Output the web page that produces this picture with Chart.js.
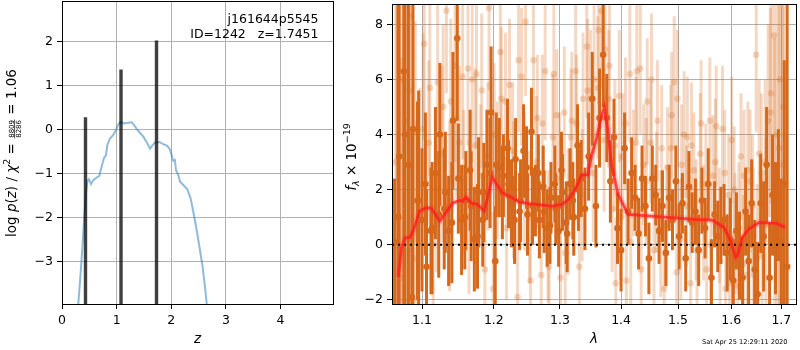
<!DOCTYPE html>
<html><head><meta charset="utf-8">
<script src="https://cdn.jsdelivr.net/npm/chart.js@4.4.1/dist/chart.umd.min.js"></script>
<style>
html,body{margin:0;padding:0;background:#fff;width:800px;height:350px;overflow:hidden;}
canvas{position:absolute;top:0;}
#c1{left:0;width:335px;height:350px;}
#c2{left:335px;width:465px;height:350px;}
</style></head><body>
<canvas id="c1" width="335" height="350"></canvas>
<canvas id="c2" width="465" height="350"></canvas>
<script>
// ---------- data ----------
const zTicks = [0, 1, 2, 3, 4];
const lnpTicks = [-3, -2, -1, 0, 1, 2];
const waveTicks = [1.1, 1.2, 1.3, 1.4, 1.5, 1.6, 1.7];
const fluxTicks = [-2, 0, 2, 4, 6, 8];
const zRange = [0, 4.96];
const lnpRange = [-3.97, 2.93];
const waveRange = [1.0607, 1.7305];
const fluxRange = [-2.156, 8.743];

const titleLines = ['j161644p5545', 'ID=1242   z=1.7451'];
const dateText = 'Sat Apr 25 12:29:11 2020';

// log p(z) curve
const pzZ = [0.27, 0.299, 0.341, 0.378, 0.408, 0.439, 0.463, 0.494, 0.531, 0.573, 0.634, 0.683, 0.726, 0.768, 0.805, 0.829, 0.878, 0.939, 0.988, 1.030, 1.061, 1.152, 1.213, 1.274, 1.317, 1.366, 1.427, 1.488, 1.561, 1.610, 1.659, 1.701, 1.781, 1.854, 1.927, 1.976, 2.006, 2.037, 2.067, 2.085, 2.128, 2.159, 2.220, 2.293, 2.354, 2.403, 2.464, 2.525, 2.573, 2.616, 2.647, 2.68];
const pzLogP = [-4.6, -3.95, -3.27, -2.59, -1.98, -1.45, -1.18, -1.13, -1.24, -1.15, -1.09, -1.05, -0.84, -0.65, -0.58, -0.35, -0.20, -0.12, -0.01, 0.12, 0.17, 0.14, 0.16, 0.17, 0.11, 0.02, -0.07, -0.16, -0.31, -0.43, -0.35, -0.29, -0.28, -0.33, -0.37, -0.45, -0.58, -0.71, -0.69, -0.92, -1.03, -1.18, -1.26, -1.36, -1.56, -1.87, -2.28, -2.74, -3.12, -3.57, -3.95, -4.5];

// redshift peaks (vertical bars)
const peakZ = [0.43, 1.08, 1.73];
const peakTop = [0.28, 1.37, 2.03];

// spectrum, dark set A
const darkWave = [1.064, 1.070, 1.076, 1.082, 1.088, 1.094, 1.100, 1.106, 1.112, 1.118, 1.124, 1.130, 1.136, 1.142, 1.148, 1.154, 1.160, 1.166, 1.172, 1.178, 1.184, 1.190, 1.196, 1.202, 1.208, 1.214, 1.220, 1.226, 1.232, 1.238, 1.244, 1.250, 1.256, 1.262, 1.268, 1.274, 1.280, 1.286, 1.292, 1.298, 1.304, 1.310, 1.316, 1.322, 1.328, 1.334, 1.340, 1.346, 1.352, 1.358, 1.364, 1.370, 1.376, 1.382, 1.388, 1.394, 1.400, 1.406, 1.412, 1.418, 1.424, 1.430, 1.436, 1.442, 1.448, 1.454, 1.460, 1.466, 1.472, 1.478, 1.484, 1.490, 1.496, 1.502, 1.508, 1.514, 1.520, 1.526, 1.532, 1.538, 1.544, 1.550, 1.556, 1.562, 1.568, 1.574, 1.580, 1.586, 1.592, 1.598, 1.604, 1.610, 1.616, 1.622, 1.628, 1.634, 1.640, 1.646, 1.652, 1.658, 1.664, 1.670, 1.676, 1.682, 1.688, 1.694, 1.700, 1.706, 1.712];
const darkFlux = [0.1, 3.2, 6.3, 2.9, 4.2, 1.6, 0.9, -0.8, 0.5, 2.6, 4.0, 1.3, 0.5, 4.5, 7.5, 0.9, 1.6, 2.7, 0.2, 1.9, 0.9, 2.9, 4.8, -0.6, 2.8, 2.5, 3.5, 1.5, 3.1, 1.2, 3.4, 1.1, 4.1, 1.6, 0.9, 2.1, 0.6, 1.7, 2.2, 0.5, 1.9, 0.8, 2.2, 1.0, 3.6, 2.4, 1.3, 3.2, 5.3, 1.4, 4.6, 6.9, 4.6, 2.3, 3.9, 0.6, -0.2, 3.5, 1.2, 2.6, 1.7, 0.4, 2.4, 1.4, -0.5, 2.4, 1.8, 0.5, 1.4, -0.3, 1.7, 0.9, 2.3, 0.3, 1.5, -0.5, 2.1, 0.8, 1.2, -0.2, 1.6, 0.6, 2.2, -1.2, 1.1, 0.3, 0.7, 0.9, -0.3, 0.2, -1.3, 0.5, -0.4, -1.2, 1.2, -0.6, 1.5, -0.9, -1.8, 1.5, 0.3, 2.9, -1.2, 1.8, 0.6, 1.8, 0.1, 2.2, -0.8];
const darkErr = [2.3, 12, 12, 9, 7, 3.6, 2.6, 2.8, 2.3, 2.4, 2.6, 2.2, 2.0, 2.5, 3.0, 2.0, 1.8, 2.2, 1.9, 2.0, 1.7, 2.0, 2.4, 2.0, 1.8, 1.5, 1.8, 1.6, 1.5, 1.4, 1.7, 1.5, 1.6, 1.3, 1.4, 1.5, 1.4, 1.3, 1.4, 1.3, 1.4, 1.5, 1.3, 1.4, 1.5, 1.4, 1.5, 1.6, 1.7, 1.5, 1.8, 1.9, 1.6, 1.5, 1.4, 1.3, 1.5, 1.3, 1.2, 1.3, 1.2, 1.3, 1.2, 1.1, 1.3, 1.2, 1.1, 1.2, 1.3, 1.2, 1.2, 1.1, 1.3, 1.2, 1.1, 1.2, 1.3, 1.1, 1.2, 1.3, 1.2, 1.1, 1.3, 1.4, 1.2, 1.3, 1.4, 1.3, 1.4, 1.5, 1.5, 1.4, 1.6, 1.5, 1.6, 1.7, 1.6, 1.8, 1.9, 1.8, 2.0, 2.1, 2.0, 2.2, 2.4, 2.4, 2.3, 4.5, 11];

// spectrum, dark set B (blue end only)
const darkWaveB = [1.0685, 1.0775, 1.0865, 1.0955, 1.1045, 1.1135, 1.1225, 1.1315, 1.1405, 1.1495, 1.1585, 1.1675, 1.1765, 1.1855, 1.1945, 1.2035, 1.2125, 1.2215, 1.2305, 1.2395, 1.2485, 1.2575, 1.2665, 1.2755, 1.2845, 1.2935, 1.3025, 1.3115, 1.3205, 1.3295];
const darkFluxB = [1.0, 4.0, -1.9, 1.6, 2.2, 0.6, 1.1, 1.9, 0.8, 2.4, 1.0, 1.4, 0.3, 1.9, 2.6, 2.9, 1.9, 2.2, 0.9, 1.6, 2.8, 1.4, 2.6, 1.2, 0.7, 1.3, 2.7, 0.4, 1.6, 2.0];
const darkErrB = [12, 10, 6, 4, 2.6, 2.4, 2.3, 2.2, 2.2, 2.0, 1.9, 2.0, 1.9, 1.8, 2.0, 1.9, 1.7, 1.6, 1.6, 1.5, 1.5, 1.4, 1.4, 1.5, 1.4, 1.3, 1.4, 1.4, 1.4, 1.5];

// spectrum, faint set A
const lightWave = [1.067, 1.073, 1.079, 1.085, 1.091, 1.097, 1.103, 1.109, 1.115, 1.121, 1.127, 1.133, 1.139, 1.145, 1.151, 1.157, 1.163, 1.169, 1.175, 1.181, 1.187, 1.193, 1.199, 1.205, 1.211, 1.217, 1.223, 1.229, 1.235, 1.241, 1.247, 1.253, 1.259, 1.265, 1.271, 1.277, 1.283, 1.289, 1.295, 1.301, 1.307, 1.313, 1.319, 1.325, 1.331, 1.337, 1.343, 1.349, 1.355, 1.361, 1.367, 1.373, 1.379, 1.385, 1.391, 1.397, 1.403, 1.409, 1.415, 1.421, 1.427, 1.433, 1.439, 1.445, 1.451, 1.457, 1.463, 1.469, 1.475, 1.481, 1.487, 1.493, 1.499, 1.505, 1.511, 1.517, 1.523, 1.529, 1.535, 1.541, 1.547, 1.553, 1.559, 1.565, 1.571, 1.577, 1.583, 1.589, 1.595, 1.601, 1.607, 1.613, 1.619, 1.625, 1.631, 1.637, 1.643, 1.649, 1.655, 1.661, 1.667, 1.673, 1.679, 1.685, 1.691, 1.697, 1.703];
const lightFlux = [0.8, -1.2, 4.5, 8.3, 4.1, 2.2, 7.3, 3.7, 0.0, 5.9, 3.3, 8.5, 5.2, 6.5, 3.7, 2.3, 6.4, 6.0, 6.2, 2.5, -0.9, 8.6, -1.6, 2.7, 5.3, 5.2, 5.8, 2.0, -1.9, 6.1, 8.1, 1.0, 6.7, 4.6, -1.1, 6.3, -0.8, 3.9, 4.7, -1.2, 4.8, 1.2, 4.5, 6.3, -0.8, 5.3, 7.2, 5.3, 6.0, 5.7, 8.5, 7.1, 5.3, 1.3, -1.4, 5.4, 3.2, -1.3, 6.2, 2.6, 6.3, 6.4, 2.9, 5.2, 3.7, -0.2, 4.5, 0.4, -1.6, 2.8, 3.5, 5.9, 5.3, 0.2, 4.0, 3.9, -1.4, 2.7, -0.2, 3.3, 0.8, -0.9, 4.5, 2.5, 4.3, 0.7, 4.2, -1.6, 1.8, 3.8, 0.4, -1.5, 3.2, 2.5, -1.1, 2.3, 0.3, 6.9, 3.3, -0.4, 3.0, 4.5, 5.5, 7.6, 4.0, 6.0, 2.9];
const lightErr = [9, 8, 7, 8, 4, 3.5, 3.5, 3.0, 3.0, 3.0, 3.2, 3.0, 3.0, 3.5, 2.8, 2.6, 2.8, 3.0, 2.7, 2.6, 2.5, 3.0, 2.8, 2.5, 2.6, 2.5, 2.4, 2.5, 2.7, 2.5, 2.7, 2.4, 2.6, 2.3, 2.4, 2.5, 2.4, 2.3, 2.4, 2.5, 2.4, 2.3, 2.5, 2.6, 2.4, 2.4, 2.6, 2.5, 2.7, 2.6, 2.8, 2.6, 2.5, 2.3, 2.4, 2.4, 2.3, 2.4, 2.5, 2.3, 2.5, 2.4, 2.2, 2.3, 2.2, 2.3, 2.2, 2.3, 2.4, 2.2, 2.3, 2.4, 2.5, 2.2, 2.3, 2.2, 2.3, 2.1, 2.2, 2.2, 2.1, 2.3, 2.3, 2.2, 2.2, 2.1, 2.3, 2.4, 2.2, 2.3, 2.2, 2.5, 2.3, 2.4, 2.5, 2.6, 2.5, 2.8, 2.7, 2.9, 3.0, 3.5, 4, 6, 7, 9, 10];

// spectrum, faint set B
const lightWaveB = [1.0655, 1.0745, 1.0835, 1.0925, 1.1015, 1.1105, 1.1195, 1.1285, 1.1375, 1.1465, 1.1555, 1.1645, 1.1735, 1.1825, 1.1915, 1.2005, 1.2095, 1.2185, 1.2275, 1.2365, 1.2455, 1.2545, 1.2635, 1.2725, 1.2815, 1.2905, 1.2995, 1.3085, 1.3175, 1.3265, 1.3355, 1.3445, 1.3535, 1.3625, 1.3715, 1.3805, 1.3895, 1.3985, 1.4075, 1.4165, 1.4255, 1.4345, 1.4435, 1.4525, 1.4615, 1.4705, 1.4795, 1.4885, 1.4975, 1.5065, 1.5155, 1.5245, 1.5335, 1.5425, 1.5515, 1.5605, 1.5695, 1.5785, 1.5875, 1.5965, 1.6055, 1.6145, 1.6235, 1.6325, 1.6415, 1.6505, 1.6595, 1.6685, 1.6775, 1.6865, 1.6955, 1.7045];
const lightFluxB = [3.0, 6.0, 5.6, -0.5, 4.2, 5.7, 2.0, 5.0, 1.4, 4.6, 6.1, 1.0, 3.6, 5.6, 3.2, 4.0, 7.0, 0.6, 3.4, 6.7, 2.3, -1.3, 3.0, 4.4, 0.3, 6.2, 2.4, -0.3, 3.9, 4.4, 1.8, 5.6, 2.6, 7.8, 3.8, 6.5, 3.6, 1.0, 4.4, 0.1, 3.7, -0.9, 2.3, 6.0, 1.9, 3.5, 0.7, 4.7, -1.0, 2.9, 1.4, 3.6, 0.9, 4.4, 2.2, 0.0, 3.0, -0.6, 2.6, -1.4, 2.0, 0.6, -0.7, 2.7, 1.4, -0.5, 2.6, 0.7, 4.8, 2.5, 3.5, 5.0];
const lightErrB = [10, 9, 8, 5, 3.5, 3.2, 3.0, 3.0, 3.1, 2.9, 3.0, 2.8, 2.8, 2.8, 2.7, 2.6, 2.8, 2.6, 2.5, 2.6, 2.5, 2.6, 2.4, 2.5, 2.4, 2.6, 2.4, 2.4, 2.5, 2.5, 2.4, 2.6, 2.5, 2.7, 2.6, 2.6, 2.4, 2.3, 2.4, 2.3, 2.4, 2.3, 2.3, 2.4, 2.2, 2.3, 2.2, 2.3, 2.3, 2.2, 2.2, 2.3, 2.2, 2.3, 2.2, 2.2, 2.3, 2.2, 2.3, 2.4, 2.3, 2.4, 2.5, 2.5, 2.6, 2.7, 2.9, 3.2, 3.8, 5, 8, 10];

// best-fit model
const modelWave = [1.0687, 1.0731, 1.0774, 1.0838, 1.0882, 1.0970, 1.1058, 1.1125, 1.1237, 1.1304, 1.1418, 1.1510, 1.1556, 1.1603, 1.1673, 1.1766, 1.1861, 1.1908, 1.1980, 1.2029, 1.2125, 1.2248, 1.2370, 1.2521, 1.2876, 1.3032, 1.3137, 1.3242, 1.3350, 1.3446, 1.3511, 1.3592, 1.3674, 1.3718, 1.3773, 1.3839, 1.3951, 1.4120, 1.4697, 1.5297, 1.5638, 1.5860, 1.5987, 1.6083, 1.6120, 1.6213, 1.6343, 1.6474, 1.6540, 1.6909, 1.7080];
const modelFlux = [-1.18, -0.10, 0.24, 0.26, 0.50, 1.22, 1.34, 1.32, 0.86, 1.10, 1.52, 1.61, 1.58, 1.73, 1.52, 1.46, 1.22, 1.70, 2.45, 2.24, 1.88, 1.73, 1.55, 1.49, 1.40, 1.46, 1.64, 2.00, 2.54, 2.54, 3.26, 3.86, 4.70, 5.00, 4.22, 2.90, 1.82, 1.10, 1.01, 0.92, 0.89, 0.62, 0.14, -0.46, -0.40, 0.26, 0.56, 0.72, 0.80, 0.77, 0.62];

// ---------- helpers ----------
const FONT = '"DejaVu Sans"';
Chart.defaults.font.family = FONT;
const minus = v => String(v).replace('-', '\u2212');

function setF(ctx, p) { ctx.font = (p.i ? 'italic ' : '') + p.s + 'px ' + FONT; }
function partW(ctx, p) {
  if (p.frac) { ctx.font = p.s + 'px ' + FONT; return Math.max(ctx.measureText(p.frac[0]).width, ctx.measureText(p.frac[1]).width) + 2; }
  setF(ctx, p); return ctx.measureText(p.t).width;
}
function drawRich(ctx, cx, cy, parts, rot) {
  ctx.save(); ctx.translate(cx, cy); if (rot) ctx.rotate(-Math.PI / 2);
  ctx.fillStyle = '#000'; ctx.textBaseline = 'alphabetic'; ctx.textAlign = 'left';
  const ws = parts.map(p => partW(ctx, p));
  let x = -ws.reduce((a, b) => a + b, 0) / 2;
  parts.forEach((p, k) => {
    if (p.frac) {
      ctx.font = p.s + 'px ' + FONT; ctx.textAlign = 'center';
      ctx.fillText(p.frac[0], x + ws[k] / 2, p.ny);
      ctx.fillText(p.frac[1], x + ws[k] / 2, p.dy2);
      ctx.fillRect(x + 0.5, p.by - 0.35, ws[k] - 1, 0.7);
      ctx.textAlign = 'left';
    } else { setF(ctx, p); ctx.fillText(p.t, x, p.dy || 0); }
    x += ws[k];
  });
  ctx.restore();
}

function axis(min, max, ticks, fmt, fit, extra) {
  return Object.assign({
    min: min, max: max, bounds: 'data',
    afterBuildTicks: s => { s.ticks = ticks.map(v => ({ value: v })); },
    afterFit: s => { fit(s); s.paddingTop = 0; s.paddingBottom = 0; s.paddingLeft = 0; s.paddingRight = 0; },
    grid: { color: '#b0b0b0', lineWidth: 1, tickLength: 5, tickColor: '#000', tickWidth: 1 },
    border: { display: true, color: '#000', width: 1 },
    ticks: { color: '#000', font: { size: 12.5 }, padding: 4, maxRotation: 0, autoSkip: false, callback: fmt }
  }, extra || {});
}

function framePlugin(drawExtra) {
  return {
    id: 'frame',
    afterDraw(chart) {
      const ctx = chart.ctx, a = chart.chartArea;
      ctx.save(); ctx.strokeStyle = '#000'; ctx.lineWidth = 1;
      ctx.strokeRect(Math.round(a.left) + 0.5, Math.round(a.top) + 0.5, Math.round(a.right - a.left), Math.round(a.bottom - a.top));
      ctx.restore();
      drawExtra(ctx, chart);
    }
  };
}

const errorBars = {
  id: 'errorBars',
  beforeDatasetDraw(chart, args) {
    const ds = chart.data.datasets[args.index];
    if (!ds.errorValues) return;
    const ctx = chart.ctx, a = chart.chartArea;
    const xs = chart.scales.x, ys = chart.scales.y;
    ctx.save();
    ctx.beginPath(); ctx.rect(a.left, a.top, a.right - a.left, a.bottom - a.top); ctx.clip();
    ctx.strokeStyle = ds.errorColor; ctx.lineWidth = ds.errorWidth; ctx.lineCap = 'butt';
    ds.data.forEach((pt, i) => {
      const e = ds.errorValues[i];
      const px = xs.getPixelForValue(pt.x);
      ctx.beginPath();
      ctx.moveTo(px, ys.getPixelForValue(pt.y - e));
      ctx.lineTo(px, ys.getPixelForValue(pt.y + e));
      ctx.stroke();
    });
    ctx.restore();
  }
};

// ---------- left panel: p(z) ----------
const leftSets = [];
peakZ.forEach((z, i) => {
  leftSets.push({
    data: [{ x: z, y: lnpRange[0] - 1 }, { x: z, y: peakTop[i] }],
    showLine: true, borderColor: 'rgba(0,0,0,0.75)', borderWidth: 3.4, pointRadius: 0, clip: 0, order: 0
  });
});
leftSets.push({
  data: pzZ.map((z, i) => ({ x: z, y: pzLogP[i] })),
  showLine: true, borderColor: 'rgba(31,119,180,0.5)', borderWidth: 2, pointRadius: 0, clip: 0, order: 1
});

const leftText = (ctx) => {
  ctx.save(); ctx.fillStyle = '#000'; ctx.font = '12.5px ' + FONT; ctx.textAlign = 'right'; ctx.textBaseline = 'alphabetic';
  ctx.fillText(titleLines[0], 318.5, 22.5);
  ctx.fillText(titleLines[1], 318.5, 37.5);
  ctx.restore();
  drawRich(ctx, 15.5, 153, [
    { t: 'log ', s: 13.5 }, { t: 'p', s: 13.5, i: true }, { t: '(', s: 13.5 }, { t: 'z', s: 13.5, i: true },
    { t: ') / ', s: 13.5 }, { t: '\u03c7', s: 13.5, i: true }, { t: '2', s: 9.5, dy: -5.5 }, { t: ' = ', s: 13.5 },
    { frac: ['8809', '8286'], s: 7, ny: -1.8, dy2: 5.3, by: -0.8 }, { t: ' = 1.06', s: 13.5 }
  ], true);
};

new Chart(document.getElementById('c1'), {
  type: 'scatter',
  data: { datasets: leftSets },
  plugins: [framePlugin(leftText)],
  options: {
    responsive: false, animation: false, devicePixelRatio: 1,
    layout: { padding: { top: 1, right: 2, left: 0, bottom: 0 } },
    plugins: { legend: { display: false }, tooltip: { enabled: false } },
    scales: {
      x: axis(zRange[0], zRange[1], zTicks, v => minus(v), s => { s.height = 46; }, {
        type: 'linear',
        title: { display: true, text: 'z', color: '#000', font: { size: 13.5, style: 'italic' }, padding: { top: 0, bottom: 2 } }
      }),
      y: axis(lnpRange[0], lnpRange[1], lnpTicks, v => minus(v), s => { s.width = 62; }, { type: 'linear' })
    }
  }
});

// ---------- right panel: spectrum ----------
const DARK = 'rgb(214,104,28)';
const LIGHT = 'rgba(214,104,28,0.26)';
const rightText = (ctx) => {
  drawRich(ctx, 356 - 335, 157, [
    { t: 'f', s: 13.5, i: true }, { t: '\u03bb', s: 9.5, i: true, dy: 3 }, { t: ' \u00d7 10', s: 13.5 }, { t: '\u221219', s: 9.5, dy: -6 }
  ], true);
  ctx.save(); ctx.fillStyle = '#000'; ctx.font = '6.6px ' + FONT; ctx.textAlign = 'right'; ctx.textBaseline = 'alphabetic';
  ctx.fillText(dateText, 787.5 - 335, 343.5);
  ctx.restore();
};

function specSet(wave, flux, err, color, order) {
  return {
    data: wave.map((w, i) => ({ x: w, y: flux[i] })), errorValues: err, errorColor: color, errorWidth: 3,
    pointRadius: 3.3, pointBackgroundColor: color, pointBorderWidth: 0, clip: 0, order: order
  };
}

new Chart(document.getElementById('c2'), {
  type: 'scatter',
  data: {
    datasets: [
      { data: modelWave.map((w, i) => ({ x: w, y: modelFlux[i] })), showLine: true, borderColor: 'rgba(255,25,25,0.75)', borderWidth: 2.8, pointRadius: 0, clip: 0, order: 0 },
      { data: modelWave.map((w, i) => ({ x: w, y: modelFlux[i] })), showLine: true, borderColor: 'rgba(255,60,60,0.22)', borderWidth: 6.5, pointRadius: 0, clip: 0, order: 1 },
      { data: [{ x: waveRange[0], y: 0 }, { x: waveRange[1], y: 0 }], showLine: true, borderColor: '#000', borderWidth: 2, borderDash: [2, 4], pointRadius: 0, clip: 0, order: 2 },
      specSet(darkWave, darkFlux, darkErr, DARK, 3),
      specSet(darkWaveB, darkFluxB, darkErrB, DARK, 4),
      specSet(lightWave, lightFlux, lightErr, LIGHT, 5),
      specSet(lightWaveB, lightFluxB, lightErrB, LIGHT, 6)
    ]
  },
  plugins: [errorBars, framePlugin(rightText)],
  options: {
    responsive: false, animation: false, devicePixelRatio: 1,
    layout: { padding: { top: 1, right: 1, left: 0, bottom: 0 } },
    plugins: { legend: { display: false }, tooltip: { enabled: false } },
    scales: {
      x: axis(waveRange[0], waveRange[1], waveTicks, v => Number(v).toFixed(1), s => { s.height = 46; }, {
        type: 'logarithmic',
        title: { display: true, text: '\u03bb', color: '#000', font: { size: 13.5, style: 'italic' }, padding: { top: 0, bottom: 2 } }
      }),
      y: axis(fluxRange[0], fluxRange[1], fluxTicks, v => minus(v), s => { s.width = 57; }, { type: 'linear' })
    }
  }
});
</script></body></html>
